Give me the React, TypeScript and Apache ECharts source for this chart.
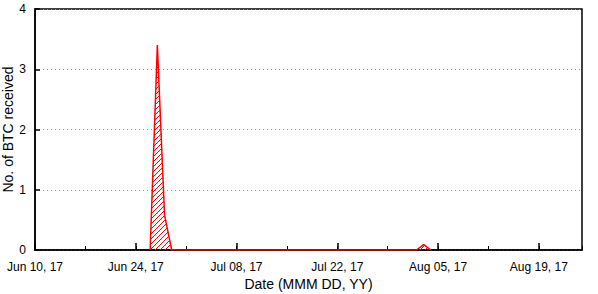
import React, { useEffect, useRef } from "react";
import * as echarts from "echarts";

const startDate = new Date(2017, 5, 10); // Jun 10, 2017 = day 0
const axisMaxDay = 76;
const dayValues: [number, number][] = [
  [16, 0], [17, 3.4], [18, 0.58], [19, 0], [20, 0], [25, 0], [30, 0], [35, 0],
  [40, 0], [45, 0], [50, 0], [53, 0], [54, 0.09], [55, 0],
];
const yTicks = [0, 1, 2, 3, 4];
const months = ["Jan", "Feb", "Mar", "Apr", "May", "Jun", "Jul", "Aug", "Sep", "Oct", "Nov", "Dec"];

function fmtDay(d: number): string {
  const dt = new Date(startDate.getTime() + d * 86400000);
  const dd = String(dt.getDate()).padStart(2, "0");
  return `${months[dt.getMonth()]} ${dd}, ${String(dt.getFullYear()).slice(2)}`;
}

function makeHatch(): HTMLCanvasElement {
  const c = document.createElement("canvas");
  const s = 5;
  c.width = s;
  c.height = s;
  const ctx = c.getContext("2d")!;
  ctx.strokeStyle = "#ff0000";
  ctx.lineWidth = 1;
  ctx.beginPath();
  ctx.moveTo(0, s);
  ctx.lineTo(s, 0);
  ctx.moveTo(-1, 1);
  ctx.lineTo(1, -1);
  ctx.moveTo(s - 1, s + 1);
  ctx.lineTo(s + 1, s - 1);
  ctx.stroke();
  return c;
}

export default function App() {
  const ref = useRef<HTMLDivElement>(null);
  useEffect(() => {
    if (!ref.current) return;
    const chart = echarts.init(ref.current, undefined, { renderer: "svg" });
    const font = "Liberation Sans, Arial, sans-serif";
    chart.setOption({
      animation: false,
      grid: {
        left: 35, right: 16, top: 9, bottom: 44,
        containLabel: false, outerBoundsMode: "none",
        show: true, borderColor: "#000", borderWidth: 1.5,
      },
      xAxis: [
        {
          type: "value", min: 0, max: axisMaxDay, interval: 14,
          axisLine: { show: true, lineStyle: { color: "#000", width: 1.5 } },
          axisTick: { show: true, inside: true, length: 7, lineStyle: { color: "#000", width: 1.5 } },
          axisLabel: {
            color: "#000", fontSize: 12, fontFamily: font, margin: 11,
            formatter: (v: number) => (v % 14 === 0 ? fmtDay(v) : ""),
            showMaxLabel: false,
          },
          splitLine: { show: false },
          name: "Date (MMM DD, YY)", nameLocation: "middle", nameGap: 27,
          nameMoveOverlap: false,
          nameTextStyle: { color: "#000", fontSize: 14, fontFamily: font },
        },
        {
          type: "value", min: 0, max: axisMaxDay, interval: 7, position: "bottom",
          axisLine: { show: false },
          axisTick: { show: true, inside: true, length: 4, lineStyle: { color: "#000", width: 1 } },
          axisLabel: { show: false },
          splitLine: { show: false },
        },
      ],
      yAxis: {
        type: "value", min: yTicks[0], max: yTicks[yTicks.length - 1], interval: 1,
        axisLine: { show: true, lineStyle: { color: "#000", width: 1.5 } },
        axisTick: { show: true, inside: true, length: 5, lineStyle: { color: "#000", width: 1.5 } },
        axisLabel: { color: "#000", fontSize: 12, fontFamily: font, margin: 9 },
        splitLine: { show: true, lineStyle: { color: "#999", type: [1, 3], width: 1 } },
        name: "No. of BTC received", nameLocation: "middle", nameGap: 20,
        nameMoveOverlap: false,
        nameTextStyle: { color: "#000", fontSize: 14, fontFamily: font },
      },
      series: [
        {
          type: "line",
          xAxisIndex: 0,
          data: dayValues,
          showSymbol: false,
          lineStyle: { color: "#ff0000", width: 1.5 },
          itemStyle: { color: "#ff0000" },
          areaStyle: { color: { image: makeHatch(), repeat: "repeat" } as any, opacity: 1 },
        },
      ],
    });
    return () => chart.dispose();
  }, []);
  return <div ref={ref} style={{ width: 598, height: 294, position: "absolute", left: 0, top: 0 }} />;
}
